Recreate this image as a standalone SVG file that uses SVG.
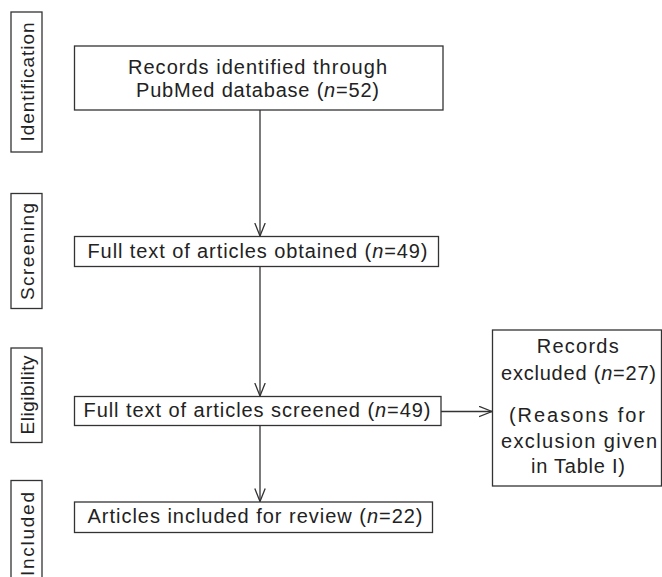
<svg xmlns="http://www.w3.org/2000/svg" width="662" height="577" viewBox="0 0 662 577">
  <style>
    .box { fill: #ffffff; stroke: #333333; stroke-width: 1.3; }
    .lbl { font-family: "Liberation Sans", Arial, sans-serif; font-size: 20px; fill: #222222; }
    .side { font-family: "Liberation Sans", Arial, sans-serif; font-size: 19px; fill: #222222; }
    .edge { fill: none; stroke: #333333; stroke-width: 1.3; }
    .it { font-style: italic; }
  </style>
  <defs>
    <marker id="vee" viewBox="0 0 14 12" refX="13.5" refY="6" markerWidth="14" markerHeight="12" markerUnits="userSpaceOnUse" orient="auto">
      <path d="M0.5,0.8 L13.5,6 L0.5,11.2" fill="none" stroke="#333333" stroke-width="1.3"/>
    </marker>
  </defs>
  <rect width="662" height="577" fill="#ffffff"/>

  <!-- stage labels on the left -->
  <g id="stage-identification">
    <rect class="box" x="11" y="12" width="31" height="140"/>
    <text class="side" transform="translate(33.5,141.5) rotate(-90)" textLength="119" lengthAdjust="spacing">Identification</text>
  </g>
  <g id="stage-screening">
    <rect class="box" x="11" y="193.5" width="31" height="115"/>
    <text class="side" transform="translate(33.5,300) rotate(-90)" textLength="97" lengthAdjust="spacing">Screening</text>
  </g>
  <g id="stage-eligibility">
    <rect class="box" x="11" y="348" width="31" height="94.5"/>
    <text class="side" transform="translate(33.5,434.5) rotate(-90)" textLength="79" lengthAdjust="spacing">Eligibility</text>
  </g>
  <g id="stage-included">
    <rect class="box" x="11" y="480.5" width="31" height="110"/>
    <text class="side" transform="translate(33.5,576) rotate(-90)" textLength="84" lengthAdjust="spacing">Included</text>
  </g>

  <!-- flow boxes -->
  <g id="identified">
    <rect class="box" x="74.5" y="46" width="368.5" height="64"/>
    <text class="lbl" x="128" y="74" textLength="259" lengthAdjust="spacing">Records identified through</text>
    <text class="lbl" x="136" y="97" textLength="243" lengthAdjust="spacing">PubMed database (<tspan class="it">n</tspan>=52)</text>
  </g>
  <g id="obtained">
    <rect class="box" x="74.5" y="236.5" width="364" height="30"/>
    <text class="lbl" x="87.5" y="257.5" textLength="340" lengthAdjust="spacing">Full text of articles obtained (<tspan class="it">n</tspan>=49)</text>
  </g>
  <g id="screened">
    <rect class="box" x="74.5" y="396.5" width="366.5" height="29"/>
    <text class="lbl" x="83.5" y="417" textLength="347" lengthAdjust="spacing">Full text of articles screened (<tspan class="it">n</tspan>=49)</text>
  </g>
  <g id="included">
    <rect class="box" x="74.5" y="502" width="358" height="30.5"/>
    <text class="lbl" x="87.5" y="523" textLength="335" lengthAdjust="spacing">Articles included for review (<tspan class="it">n</tspan>=22)</text>
  </g>
  <g id="excluded">
    <rect class="box" x="492.5" y="330" width="169" height="156"/>
    <text class="lbl" x="536.7" y="353" textLength="82" lengthAdjust="spacing">Records</text>
    <text class="lbl" x="501" y="380" textLength="155" lengthAdjust="spacing">excluded (<tspan class="it">n</tspan>=27)</text>
    <text class="lbl" x="509" y="421.5" textLength="136" lengthAdjust="spacing">(Reasons for</text>
    <text class="lbl" x="501" y="448" textLength="156" lengthAdjust="spacing">exclusion given</text>
    <text class="lbl" x="531" y="473" textLength="94" lengthAdjust="spacing">in Table I)</text>
  </g>

  <!-- connectors -->
  <g id="connectors">
    <line class="edge" x1="260" y1="110" x2="260" y2="236" marker-end="url(#vee)"/>
    <line class="edge" x1="260" y1="266.5" x2="260" y2="396" marker-end="url(#vee)"/>
    <line class="edge" x1="260" y1="425.5" x2="260" y2="501.5" marker-end="url(#vee)"/>
    <line class="edge" x1="441" y1="411.5" x2="492" y2="411.5" marker-end="url(#vee)"/>
  </g>
</svg>
